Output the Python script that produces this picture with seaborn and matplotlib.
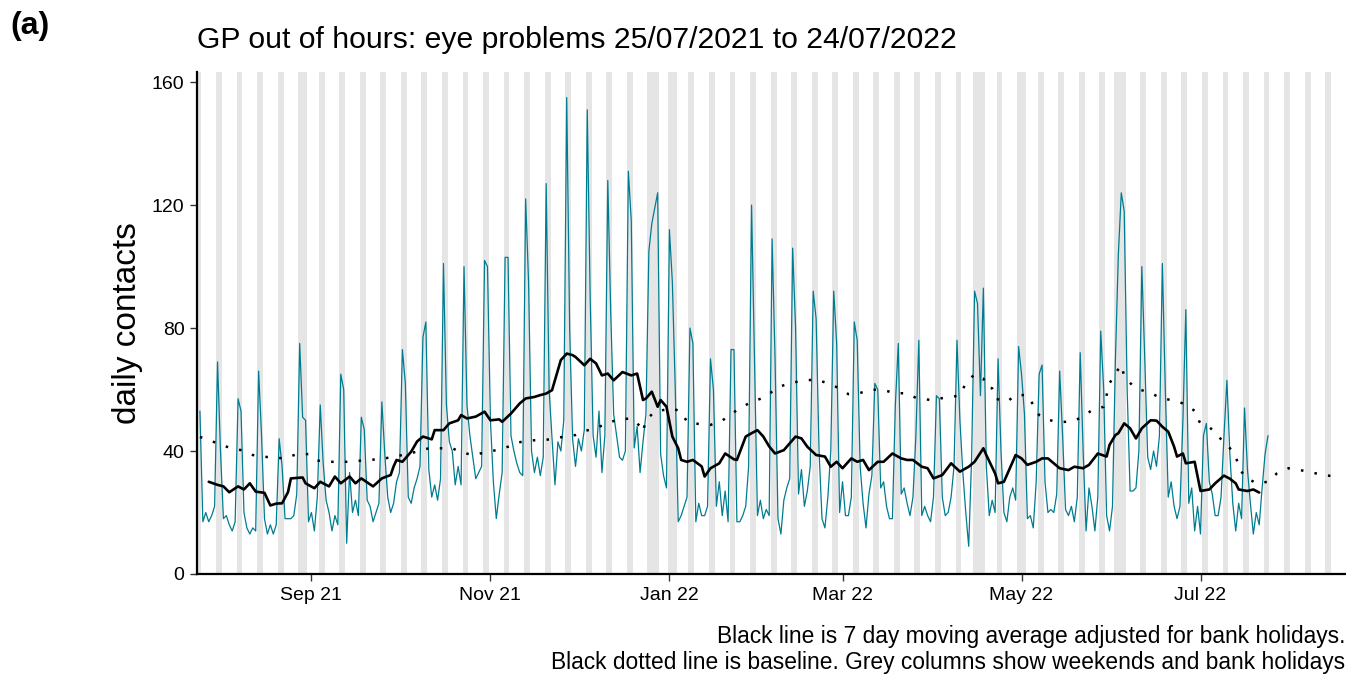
import pandas as pd
import seaborn as sns
import matplotlib.pyplot as plt
import matplotlib.dates as mdates

# daily GP out of hours contacts, 25/07/2021 .. 24/07/2022
start_date = "2021-07-25"
daily_contacts = [
    53,
    17, 20, 17, 19, 22, 69, 40,
    18, 19, 16, 14, 17, 57, 53,
    20, 15, 13, 15, 14, 66, 45,
    18, 13, 16, 13, 16, 44, 35,
    18, 18, 18, 19, 26, 75, 51,
    50, 17, 20, 14, 25, 55, 36,
    24, 20, 14, 19, 16, 65, 60,
    10, 33, 20, 24, 19, 51, 47,
    24, 22, 17, 20, 23, 56, 39,
    25, 20, 23, 30, 33, 73, 62,
    25, 23, 28, 31, 35, 77, 82,
    34, 25, 29, 24, 31, 101, 55,
    43, 40, 29, 35, 29, 100, 55,
    45, 38, 31, 33, 35, 102, 100,
    50, 30, 18, 26, 33, 103, 103,
    45, 40, 36, 33, 32, 122, 95,
    40, 33, 38, 32, 38, 127, 60,
    44, 29, 43, 40, 50, 155, 80,
    44, 35, 44, 40, 47, 151, 90,
    45, 38, 53, 33, 45, 128, 85,
    52, 45, 38, 37, 40, 131, 115,
    41, 48, 33, 43, 52, 105, 114,
    119, 124, 39, 32, 28, 112, 95,
    60, 17, 19, 22, 25, 80, 75,
    17, 23, 19, 19, 22, 70, 60,
    22, 30, 19, 27, 17, 73, 73,
    17, 17, 19, 22, 35, 120, 70,
    19, 24, 18, 21, 19, 109, 70,
    18, 13, 24, 28, 31, 106, 80,
    26, 34, 22, 27, 35, 92, 83,
    40, 18, 15, 25, 40, 92, 75,
    20, 30, 19, 19, 25, 82, 76,
    35, 23, 15, 26, 32, 62, 60,
    28, 30, 22, 18, 18, 55, 75,
    26, 28, 23, 19, 25, 45, 76,
    19, 22, 19, 17, 25, 58, 57,
    25, 19, 20, 25, 35, 76, 50,
    33, 20, 9, 38, 92, 88, 58,
    93, 35, 19, 24, 20, 70, 40,
    20, 17, 25, 28, 24, 74, 65,
    52, 18, 19, 15, 30, 65, 68,
    30, 20, 21, 20, 26, 66, 45,
    21, 19, 22, 17, 25, 72, 40,
    14, 28, 22, 14, 25, 79, 60,
    19, 14, 22, 70, 104, 124, 118,
    60, 27, 27, 28, 40, 100, 70,
    38, 34, 40, 35, 45, 101, 60,
    25, 30, 22, 18, 22, 50, 86,
    23, 28, 14, 22, 13, 45, 49,
    30, 26, 19, 19, 25, 45, 63,
    39, 23, 14, 23, 18, 54, 34,
    23, 13, 20, 16, 28, 39, 45,
]

# 7 day moving average (adjusted for bank holidays)
ma_dates = [
    "2021-07-28", "2021-07-31", "2021-08-02", "2021-08-04", "2021-08-07", "2021-08-09",
    "2021-08-11", "2021-08-13", "2021-08-16", "2021-08-18", "2021-08-20", "2021-08-22",
    "2021-08-24", "2021-08-25", "2021-08-29", "2021-08-30", "2021-09-02", "2021-09-04",
    "2021-09-07", "2021-09-09", "2021-09-11", "2021-09-14", "2021-09-16", "2021-09-18",
    "2021-09-22", "2021-09-25", "2021-09-28", "2021-09-29", "2021-09-30", "2021-10-02",
    "2021-10-05", "2021-10-07", "2021-10-09", "2021-10-11", "2021-10-12", "2021-10-13",
    "2021-10-16", "2021-10-18", "2021-10-21", "2021-10-22", "2021-10-24", "2021-10-27",
    "2021-10-30", "2021-11-01", "2021-11-04", "2021-11-05", "2021-11-08", "2021-11-11",
    "2021-11-13", "2021-11-16", "2021-11-18", "2021-11-20", "2021-11-22", "2021-11-24",
    "2021-11-25", "2021-11-27", "2021-11-29", "2021-11-30", "2021-12-03", "2021-12-05",
    "2021-12-07", "2021-12-09", "2021-12-11", "2021-12-13", "2021-12-16", "2021-12-19",
    "2021-12-21", "2021-12-23", "2021-12-24", "2021-12-26", "2021-12-28", "2021-12-29",
    "2021-12-31", "2022-01-02", "2022-01-04", "2022-01-05", "2022-01-07", "2022-01-09",
    "2022-01-12", "2022-01-13", "2022-01-15", "2022-01-18", "2022-01-20", "2022-01-23",
    "2022-01-24", "2022-01-27", "2022-01-29", "2022-01-31", "2022-02-02", "2022-02-04",
    "2022-02-06", "2022-02-09", "2022-02-11", "2022-02-13", "2022-02-15", "2022-02-17",
    "2022-02-20", "2022-02-23", "2022-02-25", "2022-02-27", "2022-03-01", "2022-03-04",
    "2022-03-06", "2022-03-08", "2022-03-10", "2022-03-13", "2022-03-15", "2022-03-18",
    "2022-03-21", "2022-03-23", "2022-03-25", "2022-03-28", "2022-03-30", "2022-04-01",
    "2022-04-04", "2022-04-07", "2022-04-10", "2022-04-13", "2022-04-15", "2022-04-18",
    "2022-04-19", "2022-04-22", "2022-04-23", "2022-04-25", "2022-04-29", "2022-05-01",
    "2022-05-03", "2022-05-06", "2022-05-08", "2022-05-10", "2022-05-14", "2022-05-17",
    "2022-05-19", "2022-05-22", "2022-05-24", "2022-05-27", "2022-05-30", "2022-05-31",
    "2022-06-02", "2022-06-03", "2022-06-05", "2022-06-07", "2022-06-09", "2022-06-11",
    "2022-06-14", "2022-06-16", "2022-06-18", "2022-06-20", "2022-06-22", "2022-06-23",
    "2022-06-25", "2022-06-26", "2022-06-29", "2022-07-01", "2022-07-04", "2022-07-06",
    "2022-07-09", "2022-07-11", "2022-07-13", "2022-07-14", "2022-07-17", "2022-07-19",
    "2022-07-21",
]
ma_values = [
    30.0, 29.0, 28.5, 26.6, 28.5, 27.5,
    29.5, 26.8, 26.4, 22.3, 22.9, 23.0,
    26.6, 31.1, 31.4, 29.5, 27.9, 30.0,
    28.5, 31.7, 29.5, 31.7, 29.5, 31.1,
    28.5, 31.1, 32.2, 35.0, 37.1, 36.5,
    39.8, 43.1, 44.7, 44.1, 43.8, 46.8,
    46.8, 49.0, 50.0, 51.7, 50.6, 51.2,
    52.8, 50.0, 50.3, 49.5, 52.2, 55.5,
    57.1, 57.6, 58.2, 58.7, 59.8, 66.3,
    69.6, 71.7, 71.2, 70.6, 67.9, 70.0,
    68.5, 64.6, 65.2, 63.0, 65.7, 64.6,
    65.2, 56.6, 57.1, 59.3, 54.4, 56.6,
    54.4, 44.7, 40.9, 37.1, 36.5, 37.1,
    35.0, 31.7, 34.4, 36.0, 39.2, 37.3,
    37.1, 44.7, 45.8, 46.8, 44.7, 41.5,
    39.2, 40.3, 42.5, 44.7, 44.1, 41.4,
    38.7, 38.2, 34.9, 36.5, 34.4, 37.6,
    36.5, 37.1, 33.8, 36.5, 36.5, 39.2,
    37.6, 37.1, 37.1, 34.9, 34.4, 31.1,
    32.2, 36.0, 33.3, 34.9, 36.5, 40.9,
    38.7, 32.7, 29.5, 30.0, 38.7, 37.6,
    35.5, 36.5, 37.6, 37.6, 34.4, 33.8,
    34.9, 34.4, 35.5, 39.2, 38.2, 42.0,
    45.2, 45.8, 49.0, 47.4, 44.1, 47.4,
    50.0, 49.9, 47.9, 46.3, 41.4, 38.2,
    39.2, 36.0, 36.5, 27.0, 27.5, 29.5,
    32.0, 31.0, 29.5, 27.5, 27.0, 27.5,
    26.5,
]

# baseline (dotted line)
baseline_dates = [
    "2021-07-25", "2021-07-31", "2021-08-04", "2021-08-08", "2021-08-12", "2021-08-15",
    "2021-08-19", "2021-08-23", "2021-08-27", "2021-08-31", "2021-09-03", "2021-09-07",
    "2021-09-14", "2021-09-18", "2021-09-22", "2021-09-26", "2021-10-01", "2021-10-07",
    "2021-10-11", "2021-10-19", "2021-10-22", "2021-10-26", "2021-10-30", "2021-11-03",
    "2021-11-07", "2021-11-10", "2021-11-14", "2021-11-22", "2021-11-26", "2021-11-30",
    "2021-12-03", "2021-12-07", "2021-12-11", "2021-12-15", "2021-12-19", "2021-12-22",
    "2021-12-23", "2021-12-24", "2021-12-27", "2022-01-02", "2022-01-05", "2022-01-07",
    "2022-01-11", "2022-01-15", "2022-01-19", "2022-01-22", "2022-01-25", "2022-01-29",
    "2022-02-02", "2022-02-05", "2022-02-08", "2022-02-12", "2022-02-16", "2022-02-20",
    "2022-02-24", "2022-02-28", "2022-03-03", "2022-03-07", "2022-03-11", "2022-03-15",
    "2022-03-19", "2022-03-23", "2022-03-26", "2022-03-31", "2022-04-03", "2022-04-07",
    "2022-04-10", "2022-04-12", "2022-04-15", "2022-04-18", "2022-04-19", "2022-04-21",
    "2022-04-22", "2022-04-26", "2022-04-29", "2022-05-03", "2022-05-05", "2022-05-07",
    "2022-05-10", "2022-05-14", "2022-05-18", "2022-05-22", "2022-05-25", "2022-05-29",
    "2022-05-30", "2022-05-31", "2022-06-02", "2022-06-04", "2022-06-05", "2022-06-08",
    "2022-06-11", "2022-06-14", "2022-06-18", "2022-06-21", "2022-06-25", "2022-06-29",
    "2022-06-30", "2022-07-04", "2022-07-07", "2022-07-10", "2022-07-13", "2022-07-14",
    "2022-07-16", "2022-07-20", "2022-07-24", "2022-07-27", "2022-07-31", "2022-08-04",
    "2022-08-08", "2022-08-12", "2022-08-16",
]
baseline_values = [
    44.6, 42.5, 41.1, 40.3, 38.7, 38.2,
    37.9, 37.6, 39.0, 39.0, 36.9, 36.5,
    36.5, 36.9, 37.2, 37.6, 38.5, 39.8,
    40.9, 40.9, 39.6, 38.7, 39.5, 40.3,
    41.4, 42.7, 43.4, 43.8, 44.7, 45.2,
    46.5, 47.4, 49.2, 50.3, 50.6, 48.1,
    46.3, 50.1, 52.8, 53.9, 52.8, 49.5,
    48.8, 48.5, 49.9, 52.0, 53.9, 56.0,
    57.3, 59.3, 61.1, 62.3, 62.9, 63.3,
    62.0, 60.4, 58.5, 58.9, 60.0, 59.8,
    58.8, 58.8, 57.3, 56.6, 57.1, 57.5,
    58.2, 62.0, 65.0, 63.6, 60.9, 60.4,
    57.1, 56.0, 58.2, 58.2, 55.0, 51.7,
    50.1, 49.5, 49.5, 51.2, 53.3, 54.4,
    58.2, 62.0, 65.3, 68.0, 64.4, 61.1,
    59.8, 58.8, 57.1, 56.6, 55.5, 53.1,
    49.9, 47.9, 44.7, 42.2, 38.4, 34.9,
    31.7, 29.5, 30.0, 32.7, 34.4, 33.8,
    33.0, 32.2, 31.7,
]

bank_holidays = [
    "2021-08-30", "2021-12-27", "2021-12-28", "2022-01-03",
    "2022-04-15", "2022-04-18", "2022-05-02", "2022-06-02", "2022-06-03",
]

tick_dates = ["2021-09-01", "2021-11-01", "2022-01-01", "2022-03-01", "2022-05-01", "2022-07-01"]
y_ticks = [0, 40, 80, 120, 160]

sns.set_theme(style="ticks")
plt.rcParams["font.family"] = ["Liberation Sans", "DejaVu Sans"]
plt.rcParams["text.color"] = "black"

W, H = 1346, 674
fig = plt.figure(figsize=(W / 100, H / 100), dpi=100)
ax = fig.add_axes([197 / W, 1 - 574 / H, 1 - 197 / W, (574 - 72) / H])

x_start = pd.Timestamp("2021-07-24")
x_end = pd.Timestamp("2022-08-19 14:00")

# grey columns for weekends and bank holidays
bh = set(pd.to_datetime(bank_holidays))
half = pd.Timedelta(hours=12)
for d in pd.date_range(x_start, x_end.normalize()):
    if d.weekday() >= 5 or d in bh:
        ax.axvspan(d - half, d + half, color="#E5E5E5", lw=0, zorder=0)

df = pd.DataFrame({"date": pd.date_range(start_date, periods=len(daily_contacts)),
                   "contacts": daily_contacts})
ma = pd.DataFrame({"date": pd.to_datetime(ma_dates), "value": ma_values})
base = pd.DataFrame({"date": pd.to_datetime(baseline_dates), "value": baseline_values})

sns.lineplot(data=df, x="date", y="contacts", color="#007C91", lw=0.9, ax=ax, zorder=2)
sns.lineplot(data=base, x="date", y="value", color="black", lw=1.8,
             linestyle=(0, (1, 4.5)), ax=ax, zorder=3)
sns.lineplot(data=ma, x="date", y="value", color="black", lw=1.9, ax=ax, zorder=4)

ax.set_xlim(x_start, x_end)
ax.set_ylim(0, 163.3)
ax.set_yticks(y_ticks)
ax.set_xticks(pd.to_datetime(tick_dates))
ax.xaxis.set_major_formatter(mdates.DateFormatter("%b %y"))

sns.despine(ax=ax)
for s in ["left", "bottom"]:
    ax.spines[s].set_linewidth(1.6)
    ax.spines[s].set_color("black")
ax.tick_params(length=5, width=1, color="#333333", labelsize=14, labelcolor="black", pad=4)

ax.set_xlabel("")
ax.set_ylabel("daily contacts", fontsize=24, color="black")
ax.yaxis.set_label_coords(-0.047, 0.5)

fig.text(197 / W, 1 - 40 / H, "GP out of hours: eye problems 25/07/2021 to 24/07/2022",
         fontsize=21.7, ha="left", va="center")
fig.text(10 / W, 1 - 26 / H, "(a)", fontsize=23, fontweight="bold", ha="left", va="center")
fig.text(1345 / W, 1 - 637 / H, "Black line is 7 day moving average adjusted for bank holidays.",
         fontsize=16.4, ha="right", va="center")
fig.text(1345 / W, 1 - 662 / H,
         "Black dotted line is baseline. Grey columns show weekends and bank holidays",
         fontsize=16.4, ha="right", va="center")

fig.savefig("out.png", dpi=100)
